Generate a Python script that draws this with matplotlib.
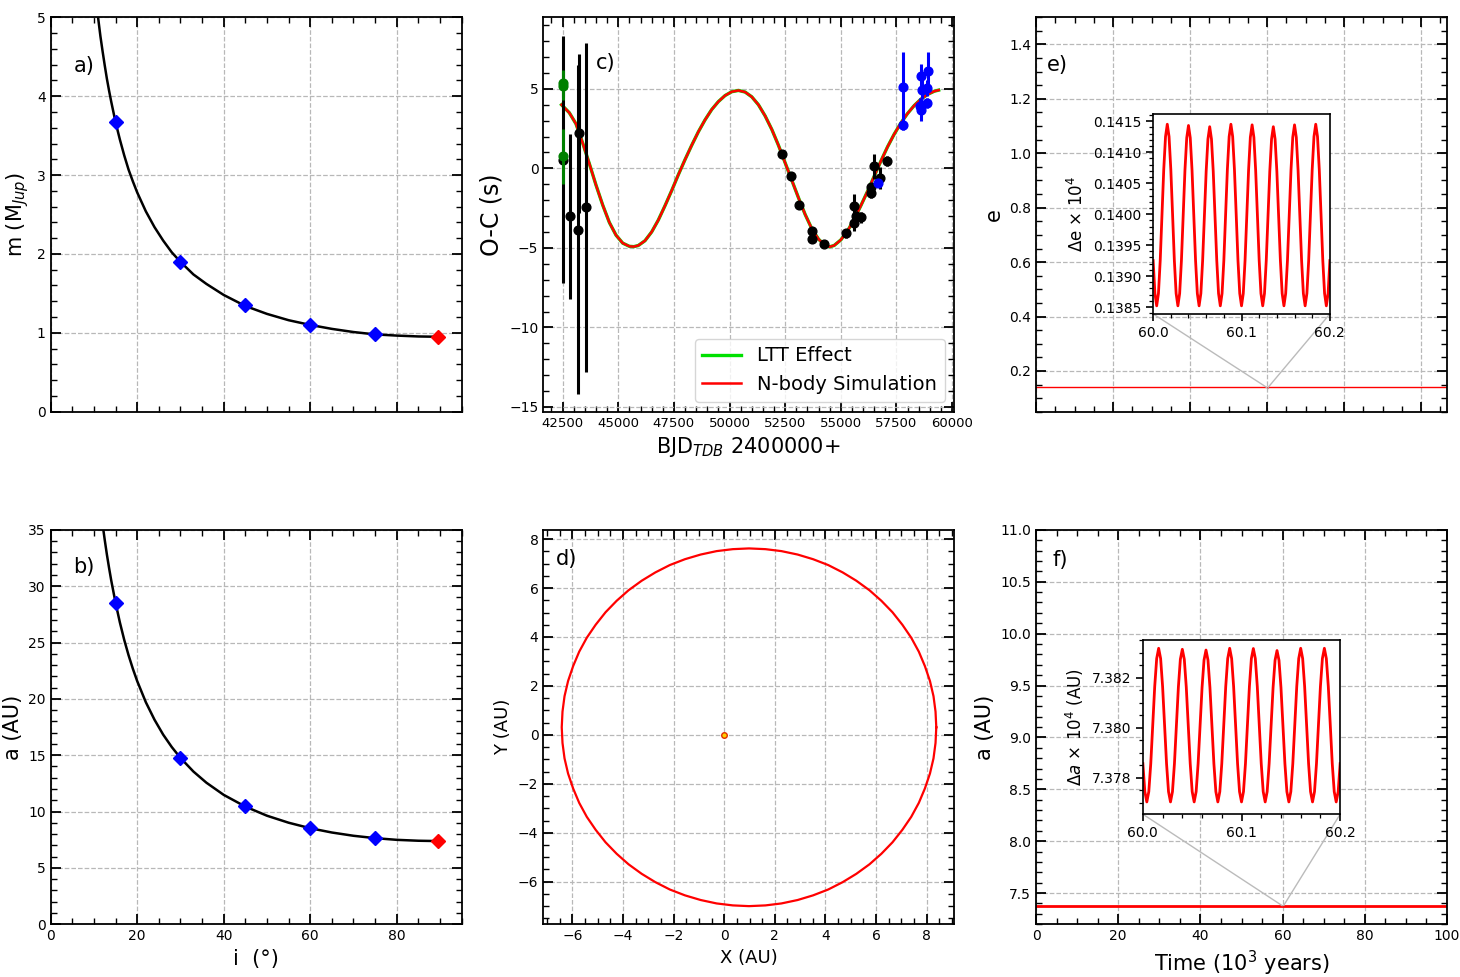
import matplotlib

matplotlib.use("Agg")
import matplotlib.pyplot as plt
from matplotlib.ticker import AutoMinorLocator, MultipleLocator, FormatStrFormatter
from mpl_toolkits.axes_grid1.inset_locator import mark_inset

# a) / b): minimum mass and semi-major axis against inclination
INCL_CURVE = [10.5, 11, 11.5, 12, 12.5, 13, 13.5, 14, 15, 16, 17, 18, 19, 20, 22, 24,
              26, 28, 30, 33, 36, 40, 45, 50, 55, 60, 65, 70, 75, 80, 85, 89.5]
MASS_CURVE = [5.21, 4.98, 4.76, 4.57, 4.39, 4.22, 4.07, 3.93, 3.67, 3.45, 3.25, 3.07,
              2.92, 2.78, 2.54, 2.34, 2.17, 2.02, 1.90, 1.74, 1.62, 1.48, 1.34, 1.24,
              1.16, 1.10, 1.05, 1.01, 0.98, 0.965, 0.954, 0.95]
SMA_CURVE = [40.5, 38.68, 37.01, 35.50, 34.10, 32.80, 31.62, 30.51, 28.52, 26.78, 25.24,
             23.88, 22.67, 21.58, 19.70, 18.15, 16.83, 15.72, 14.76, 13.55, 12.56, 11.48,
             10.44, 9.63, 9.01, 8.52, 8.14, 7.85, 7.64, 7.49, 7.41, 7.38]

INCL_POINTS = [15, 30, 45, 60, 75]
MASS_POINTS = [3.67, 1.90, 1.35, 1.10, 0.99]
SMA_POINTS = [28.5, 14.75, 10.45, 8.55, 7.65]
INCL_BEST = [89.5]
MASS_BEST = [0.95]
SMA_BEST = [7.38]

# c): O-C diagram
MODEL_BJD = [42450, 42800, 43100, 43400, 43700, 44000, 44300, 44600, 44900, 45200,
             45500, 45700, 45900, 46200, 46500, 46800, 47100, 47400, 47700, 48000,
             48300, 48600, 48900, 49200, 49500, 49800, 50100, 50400, 50700, 51000,
             51300, 51600, 51900, 52200, 52500, 52800, 53100, 53400, 53700, 54000,
             54300, 54500, 54700, 55000, 55300, 55600, 55900, 56200, 56500, 56800,
             57100, 57400, 57700, 58000, 58300, 58600, 58900, 59200, 59400]
MODEL_OC = [4.00, 3.50, 2.80, 1.60, 0.30, -1.05, -2.30, -3.40, -4.20, -4.70,
            -4.90, -4.92, -4.85, -4.55, -4.00, -3.25, -2.35, -1.40, -0.40, 0.55,
            1.45, 2.30, 3.05, 3.70, 4.20, 4.58, 4.82, 4.90, 4.80, 4.50,
            4.00, 3.30, 2.45, 1.45, 0.35, -0.75, -1.85, -2.90, -3.80, -4.45,
            -4.85, -4.93, -4.85, -4.50, -3.95, -3.20, -2.35, -1.45, -0.50, 0.45,
            1.35, 2.15, 2.85, 3.45, 3.95, 4.35, 4.65, 4.85, 4.92]

BLACK_BJD = [42520, 42810, 43190, 43240, 43530, 52380, 52760, 53130, 53720, 53720,
             54230, 55250, 55580, 55600, 55690, 55900, 56340, 56370, 56490, 56760, 57060]
BLACK_OC = [0.55, -3.02, -3.86, 2.20, -2.45, 0.89, -0.48, -2.28, -3.92, -4.44,
            -4.76, -4.09, -2.39, -3.44, -2.97, -3.08, -1.57, -1.19, 0.13, -0.60, 0.48]
BLACK_ERR = [7.75, 5.2, 10.35, 5.0, 10.35, 0.25, 0.25, 0.25, 0.25, 0.25,
             0.2, 0.3, 0.8, 0.5, 0.3, 0.35, 0.3, 0.3, 0.8, 0.7, 0.3]

GREEN_BJD = [42520, 42520, 42520]
GREEN_OC = [5.35, 5.20, 0.75]
GREEN_ERR = [0.85, 0.9, 1.75]

BLUE_BJD = [56670, 57818, 57818, 58541, 58614, 58614, 58645, 58886, 58886, 58918]
BLUE_OC = [-0.92, 5.14, 2.73, 3.94, 5.79, 3.67, 4.95, 5.03, 4.11, 6.10]
BLUE_ERR = [0.2, 2.2, 0.3, 0.5, 0.8, 0.7, 0.6, 0.5, 0.3, 1.2]

# d): orbit of the companion
ORBIT_X = [8.38, 8.35, 8.27, 8.13, 7.93, 7.69, 7.39, 7.04, 6.65, 6.21, 5.74, 5.22,
           4.68, 4.11, 3.51, 2.90, 2.26, 1.63, 0.98, 0.34, -0.30, -0.93, -1.55, -2.15,
           -2.72, -3.26, -3.78, -4.25, -4.69, -5.08, -5.43, -5.73, -5.97, -6.17, -6.31,
           -6.39, -6.42, -6.39, -6.31, -6.17, -5.97, -5.73, -5.43, -5.08, -4.69, -4.25,
           -3.78, -3.26, -2.72, -2.15, -1.55, -0.93, -0.30, 0.34, 0.98, 1.63, 2.26, 2.90,
           3.51, 4.11, 4.68, 5.22, 5.74, 6.21, 6.65, 7.04, 7.39, 7.69, 7.93, 8.13, 8.27,
           8.35, 8.38]
ORBIT_Y = [0.31, 0.95, 1.58, 2.20, 2.81, 3.40, 3.97, 4.50, 5.01, 5.48, 5.91, 6.30,
           6.64, 6.94, 7.18, 7.37, 7.51, 7.59, 7.62, 7.59, 7.51, 7.37, 7.18, 6.94,
           6.64, 6.30, 5.91, 5.48, 5.01, 4.50, 3.97, 3.40, 2.81, 2.20, 1.58, 0.95,
           0.31, -0.33, -0.96, -1.58, -2.19, -2.78, -3.35, -3.88, -4.39, -4.86, -5.29,
           -5.68, -6.02, -6.32, -6.56, -6.75, -6.89, -6.97, -7.00, -6.97, -6.89, -6.75,
           -6.56, -6.32, -6.02, -5.68, -5.29, -4.86, -4.39, -3.88, -3.35, -2.78, -2.19,
           -1.58, -0.96, -0.33, 0.31]

# e) / f): long term stability
E_TIME = [0, 107]
E_VALUE = [0.14, 0.14]
F_TIME = [0, 100]
F_VALUE = [7.38, 7.38]

INSET_TIME = [
    60.000, 60.002, 60.004, 60.006, 60.008, 60.010, 60.012, 60.014, 60.016, 60.018, 60.020, 60.022,
    60.024, 60.026, 60.028, 60.030, 60.032, 60.034, 60.036, 60.038, 60.040, 60.042, 60.044, 60.046,
    60.048, 60.050, 60.052, 60.054, 60.056, 60.058, 60.060, 60.062, 60.064, 60.066, 60.068, 60.070,
    60.072, 60.074, 60.076, 60.078, 60.080, 60.082, 60.084, 60.086, 60.088, 60.090, 60.092, 60.094,
    60.096, 60.098, 60.100, 60.102, 60.104, 60.106, 60.108, 60.110, 60.112, 60.114, 60.116, 60.118,
    60.120, 60.122, 60.124, 60.126, 60.128, 60.130, 60.132, 60.134, 60.136, 60.138, 60.140, 60.142,
    60.144, 60.146, 60.148, 60.150, 60.152, 60.154, 60.156, 60.158, 60.160, 60.162, 60.164, 60.166,
    60.168, 60.170, 60.172, 60.174, 60.176, 60.178, 60.180, 60.182, 60.184, 60.186, 60.188, 60.190,
    60.192, 60.194, 60.196, 60.198, 60.200,
]
INSET_ECC = [
    0.13925, 0.13872, 0.13852, 0.13872, 0.13925, 0.13999, 0.14072, 0.14125, 0.14145, 0.14125, 0.14072, 0.13999,
    0.13925, 0.13872, 0.13852, 0.13872, 0.13925, 0.13998, 0.14071, 0.14123, 0.14143, 0.14123, 0.14071, 0.13998,
    0.13925, 0.13872, 0.13852, 0.13872, 0.13925, 0.13997, 0.14069, 0.14121, 0.14141, 0.14121, 0.14069, 0.13997,
    0.13925, 0.13872, 0.13852, 0.13872, 0.13925, 0.13999, 0.14072, 0.14125, 0.14145, 0.14125, 0.14072, 0.13999,
    0.13925, 0.13872, 0.13852, 0.13872, 0.13925, 0.13998, 0.14071, 0.14124, 0.14144, 0.14124, 0.14071, 0.13998,
    0.13925, 0.13872, 0.13852, 0.13872, 0.13925, 0.13997, 0.14069, 0.14121, 0.14141, 0.14121, 0.14069, 0.13997,
    0.13925, 0.13872, 0.13852, 0.13872, 0.13925, 0.13998, 0.14071, 0.14124, 0.14144, 0.14124, 0.14071, 0.13998,
    0.13925, 0.13872, 0.13852, 0.13872, 0.13925, 0.13999, 0.14072, 0.14125, 0.14145, 0.14125, 0.14072, 0.13999,
    0.13925, 0.13872, 0.13852, 0.13872, 0.13925,
]
INSET_SMA = [
    7.37857, 7.37745, 7.37704, 7.37745, 7.37857, 7.38011, 7.38165, 7.38277, 7.38318, 7.38277, 7.38165, 7.38011,
    7.37857, 7.37745, 7.37704, 7.37745, 7.37857, 7.38010, 7.38163, 7.38274, 7.38314, 7.38274, 7.38163, 7.38010,
    7.37857, 7.37745, 7.37704, 7.37745, 7.37857, 7.38009, 7.38161, 7.38271, 7.38311, 7.38271, 7.38161, 7.38009,
    7.37857, 7.37745, 7.37704, 7.37745, 7.37857, 7.38011, 7.38165, 7.38277, 7.38318, 7.38277, 7.38165, 7.38011,
    7.37857, 7.37745, 7.37704, 7.37745, 7.37857, 7.38011, 7.38165, 7.38277, 7.38317, 7.38277, 7.38165, 7.38011,
    7.37857, 7.37745, 7.37704, 7.37745, 7.37857, 7.38009, 7.38161, 7.38270, 7.38309, 7.38270, 7.38161, 7.38009,
    7.37857, 7.37745, 7.37704, 7.37745, 7.37857, 7.38011, 7.38165, 7.38277, 7.38318, 7.38277, 7.38165, 7.38011,
    7.37857, 7.37745, 7.37704, 7.37745, 7.37857, 7.38011, 7.38165, 7.38277, 7.38318, 7.38277, 7.38165, 7.38011,
    7.37857, 7.37745, 7.37704, 7.37745, 7.37857,
]

LABEL_SIZE = 15
TICK_SIZE = 10


def style_axes(ax, x_minor, y_minor):
    ax.tick_params(which="both", direction="in", top=True, right=True, labelsize=TICK_SIZE)
    ax.tick_params(which="major", length=7, width=1.3)
    ax.tick_params(which="minor", length=4.5, width=1.0)
    ax.xaxis.set_minor_locator(AutoMinorLocator(x_minor))
    ax.yaxis.set_minor_locator(AutoMinorLocator(y_minor))
    ax.grid(True, linestyle="--", color="#b8b8b8", linewidth=0.9)
    for spine in ax.spines.values():
        spine.set_linewidth(1.3)


def panel_letter(ax, text, x, y):
    ax.text(x, y, text, transform=ax.transAxes, fontsize=15, ha="left", va="center")


def plot_inclination(ax, curve, points, best, ylim, ylabel, letter, letter_y, show_x):
    ax.plot(INCL_CURVE, curve, color="black", linewidth=1.8, zorder=2)
    ax.plot(INCL_POINTS, points, "D", color="blue", markersize=7.5, zorder=3)
    ax.plot(INCL_BEST, best, "D", color="red", markersize=7.5, zorder=3)
    ax.set_xlim(0, 95)
    ax.set_ylim(*ylim)
    ax.xaxis.set_major_locator(MultipleLocator(20))
    style_axes(ax, 4, 5)
    ax.set_ylabel(ylabel, fontsize=LABEL_SIZE)
    if show_x:
        ax.set_xlabel("i  (°)", fontsize=LABEL_SIZE)
    else:
        ax.tick_params(labelbottom=False)
    panel_letter(ax, letter, 0.055, letter_y)


def plot_oc(ax):
    ax.plot(MODEL_BJD, MODEL_OC, color="#00e000", linewidth=2.4, label="LTT Effect", zorder=2)
    ax.plot(MODEL_BJD, MODEL_OC, color="red", linewidth=1.8, label="N-body Simulation", zorder=2.1)
    ax.errorbar(BLACK_BJD, BLACK_OC, yerr=BLACK_ERR, fmt="o", color="black", markersize=6.3,
                elinewidth=2.2, capsize=0, zorder=3)
    ax.errorbar(GREEN_BJD, GREEN_OC, yerr=GREEN_ERR, fmt="o", color="green", markersize=6.3,
                elinewidth=2.2, capsize=0, zorder=3.2)
    ax.errorbar(BLUE_BJD, BLUE_OC, yerr=BLUE_ERR, fmt="o", color="blue", markersize=6.3,
                elinewidth=2.2, capsize=0, zorder=3.1)
    ax.set_xlim(41630, 60100)
    ax.set_ylim(-15.3, 9.5)
    ax.xaxis.set_major_locator(MultipleLocator(2500))
    ax.yaxis.set_major_locator(MultipleLocator(5))
    style_axes(ax, 5, 5)
    ax.tick_params(axis="x", labelsize=9.5)
    ax.set_xlabel("BJD$_{TDB}$ 2400000+", fontsize=LABEL_SIZE)
    ax.set_ylabel("O-C (s)", fontsize=17)
    ax.legend(loc="lower right", fontsize=14)
    panel_letter(ax, "c)", 0.128, 0.884)


def plot_orbit(ax):
    ax.plot(ORBIT_X, ORBIT_Y, color="red", linewidth=1.6)
    ax.plot([0], [0], "o", markersize=4, markerfacecolor="#ffd000", markeredgecolor="#e03000",
            markeredgewidth=1.0)
    ax.set_xlim(-7.15, 9.09)
    ax.set_ylim(-7.74, 8.38)
    ax.xaxis.set_major_locator(MultipleLocator(2))
    ax.yaxis.set_major_locator(MultipleLocator(2))
    style_axes(ax, 4, 4)
    ax.set_xlabel("X (AU)", fontsize=13)
    ax.set_ylabel("Y (AU)", fontsize=13)
    panel_letter(ax, "d)", 0.031, 0.925)


def style_inset(axins):
    axins.tick_params(which="both", direction="out", labelsize=TICK_SIZE)
    axins.tick_params(which="major", length=5, width=1.2)
    axins.tick_params(which="minor", length=3, width=0.9)
    axins.xaxis.set_major_locator(MultipleLocator(0.1))
    axins.xaxis.set_major_formatter(FormatStrFormatter("%.1f"))
    axins.xaxis.set_minor_locator(AutoMinorLocator(5))
    for spine in axins.spines.values():
        spine.set_linewidth(1.2)


def plot_eccentricity(ax):
    ax.plot(E_TIME, E_VALUE, color="red", linewidth=1.0)
    ax.set_xlim(0, 106.7)
    ax.set_ylim(0.05, 1.5)
    ax.xaxis.set_major_locator(MultipleLocator(20))
    ax.yaxis.set_major_locator(MultipleLocator(0.2))
    style_axes(ax, 4, 4)
    ax.tick_params(labelbottom=False)
    ax.set_ylabel("e", fontsize=LABEL_SIZE)
    panel_letter(ax, "e)", 0.027, 0.878)

    axins = ax.inset_axes([0.285, 0.248, 0.43, 0.506])
    axins.plot(INSET_TIME, INSET_ECC, color="red", linewidth=2.0)
    axins.set_xlim(60.0, 60.2)
    axins.set_ylim(0.13839, 0.14161)
    style_inset(axins)
    axins.yaxis.set_major_locator(MultipleLocator(0.0005))
    axins.yaxis.set_major_formatter(FormatStrFormatter("%.4f"))
    axins.yaxis.set_minor_locator(AutoMinorLocator(5))
    axins.set_ylabel("Δe × 10$^4$", fontsize=12)
    mark_inset(ax, axins, loc1=3, loc2=4, fc="none", ec="#bbbbbb", linewidth=1.0)


def plot_semimajor(ax):
    ax.plot(F_TIME, F_VALUE, color="red", linewidth=2.0)
    ax.set_xlim(0, 100)
    ax.set_ylim(7.2, 11.0)
    ax.xaxis.set_major_locator(MultipleLocator(20))
    ax.yaxis.set_major_locator(MultipleLocator(0.5))
    style_axes(ax, 4, 5)
    ax.set_xlabel("Time (10$^3$ years)", fontsize=LABEL_SIZE)
    ax.set_ylabel("a (AU)", fontsize=LABEL_SIZE)
    panel_letter(ax, "f)", 0.039, 0.924)

    axins = ax.inset_axes([0.26, 0.279, 0.48, 0.4416])
    axins.plot(INSET_TIME, INSET_SMA, color="red", linewidth=2.0)
    axins.set_xlim(60.0, 60.2)
    axins.set_ylim(7.37655, 7.38351)
    style_inset(axins)
    axins.yaxis.set_major_locator(MultipleLocator(0.002))
    axins.yaxis.set_major_formatter(FormatStrFormatter("%.3f"))
    axins.yaxis.set_minor_locator(AutoMinorLocator(4))
    axins.set_ylabel("Δ$a$ × 10$^4$ (AU)", fontsize=12)
    mark_inset(ax, axins, loc1=3, loc2=4, fc="none", ec="#bbbbbb", linewidth=1.0)


def main():
    fig = plt.figure(figsize=(14.6, 9.77), dpi=100)

    col_x = [0.0347, 0.3721, 0.7096]
    row_y = [0.5786, 0.0540]
    width, height = 0.2815, 0.4037

    ax_a = fig.add_axes([col_x[0], row_y[0], width, height])
    ax_b = fig.add_axes([col_x[0], row_y[1], width, height])
    ax_c = fig.add_axes([col_x[1], row_y[0], width, height])
    ax_d = fig.add_axes([col_x[1], row_y[1], width, height])
    ax_e = fig.add_axes([col_x[2], row_y[0], width, height])
    ax_f = fig.add_axes([col_x[2], row_y[1], width, height])

    plot_inclination(ax_a, MASS_CURVE, MASS_POINTS, MASS_BEST, (0, 5),
                     "m (M$_{Jup}$)", "a)", 0.876, show_x=False)
    plot_inclination(ax_b, SMA_CURVE, SMA_POINTS, SMA_BEST, (0, 35),
                     "a (AU)", "b)", 0.906, show_x=True)
    plot_oc(ax_c)
    plot_orbit(ax_d)
    plot_eccentricity(ax_e)
    plot_semimajor(ax_f)

    fig.savefig("out.png", dpi=100)
    plt.close(fig)


if __name__ == "__main__":
    main()
